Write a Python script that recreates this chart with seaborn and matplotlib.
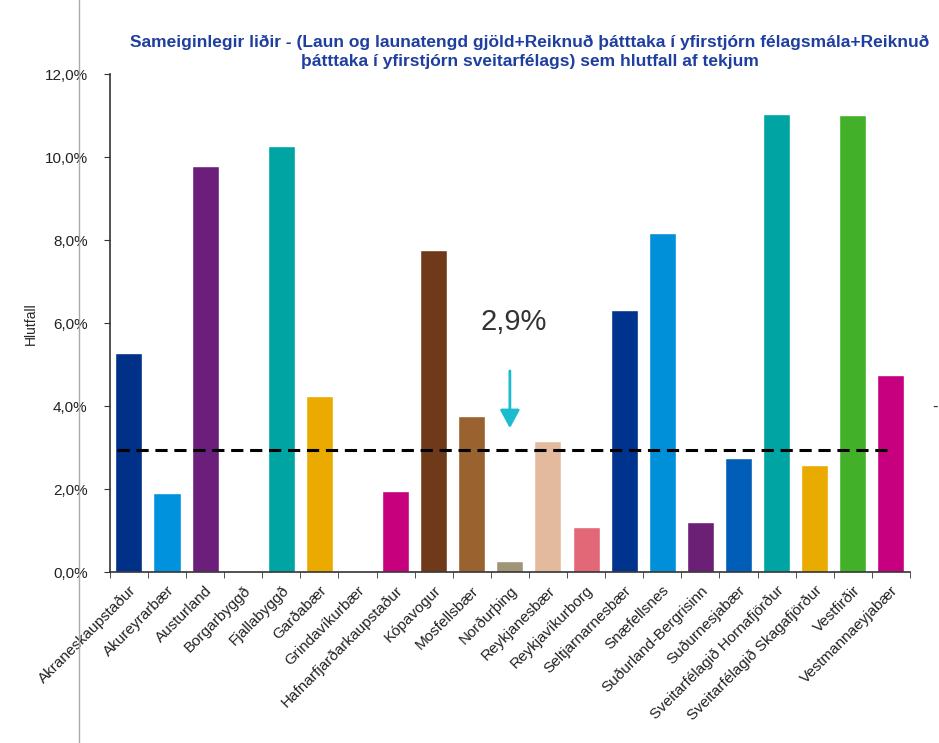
import numpy as np
import pandas as pd
import matplotlib
matplotlib.use("Agg")
import matplotlib.pyplot as plt
import seaborn as sns
from matplotlib.ticker import FuncFormatter, FixedLocator

sveitarfelog = ["Akraneskaupstaður", "Akureyrarbær", "Austurland", "Borgarbyggð",
                "Fjallabyggð", "Garðabær", "Grindavíkurbær", "Hafnarfjarðarkaupstaður",
                "Kópavogur", "Mosfellsbær", "Norðurþing", "Reykjanesbær",
                "Reykjavíkurborg", "Seltjarnarnesbær", "Snæfellsnes", "Suðurland-Bergrisinn",
                "Suðurnesjabær", "Sveitarfélagið Hornafjörður", "Sveitarfélagið Skagafjörður",
                "Vestfirðir", "Vestmannaeyjabær"]
hlutfall = [5.28, 1.90, 9.78, 0.0, 10.27, 4.24, 0.0, 1.95, 7.76, 3.76, 0.27, 3.16,
            1.08, 6.31, 8.17, 1.20, 2.75, 11.04, 2.58, 11.01, 4.75]
litir = ["#003087", "#0092DD", "#6B1F7A", "#FFFFFF", "#00A5A3", "#EAAA00", "#FFFFFF",
         "#C7007D", "#6F3A1A", "#9A622F", "#A09577", "#E4BA9F", "#E36877", "#00338D",
         "#0090DA", "#6B1F75", "#005EB8", "#00A5A3", "#EAAB00", "#43B02A", "#C6007E"]
medaltal = 2.94

df = pd.DataFrame({"sveitarfelag": sveitarfelog, "hlutfall": hlutfall})

sns.set_style("white")
plt.rcParams["font.family"] = ["Liberation Sans", "DejaVu Sans"]

fig = plt.figure(figsize=(9.39, 7.43), dpi=100)
ax = fig.add_axes([0.117, 0.230, 0.852, 0.670])

sns.barplot(data=df, x="sveitarfelag", y="hlutfall", hue="sveitarfelag",
            palette=litir, legend=False, width=0.71, saturation=1, ax=ax)

ax.set_ylim(0, 12)
ax.set_xlim(-0.5, len(sveitarfelog) - 0.5)
ax.set_yticks(np.arange(0, 12.1, 2))
ax.yaxis.set_major_formatter(FuncFormatter(lambda v, p: f"{v:.1f}%".replace(".", ",")))
ax.tick_params(axis="y", labelsize=11, length=4, pad=12, direction="out", color="#333333",
               labelcolor="#222222", left=True)
ax.set_xticks(range(len(sveitarfelog)))
ax.set_xticklabels(sveitarfelog, rotation=45, ha="right", rotation_mode="anchor",
                   fontsize=11, color="#222222")
ax.tick_params(axis="x", length=0, pad=8)
ax.xaxis.set_minor_locator(FixedLocator(np.arange(-0.5, len(sveitarfelog), 1)))
ax.tick_params(axis="x", which="minor", length=4, direction="out", color="#333333", bottom=True)
ax.set_xlabel("")
ax.set_ylabel("Hlutfall", fontsize=10, labelpad=5)

for s in ["top", "right"]:
    ax.spines[s].set_visible(False)
for s in ["left", "bottom"]:
    ax.spines[s].set_color("#333333")
    ax.spines[s].set_linewidth(1.2)

# meðaltal sem brotin lína og ör með merkimiða
ax.hlines(medaltal, -0.3, len(sveitarfelog) - 0.95, colors="black", linestyles=(0, (4, 2.2)),
          linewidth=2.2)
ax.annotate("", xy=(10.0, 3.47), xytext=(10.0, 4.85),
            arrowprops=dict(arrowstyle="-|>,head_length=0.55,head_width=0.3",
                            color="#1CBCD0", lw=2, mutation_scale=20, shrinkA=0, shrinkB=0))
ax.text(10.1, 6.02, f"{medaltal:.1f}%".replace(".", ","), ha="center", va="center",
        fontsize=21, color="#333333")

fig.text(0.564, 0.930,
         "Sameiginlegir liðir - (Laun og launatengd gjöld+Reiknuð þátttaka í yfirstjórn félagsmála+Reiknuð\n"
         "þátttaka í yfirstjórn sveitarfélags) sem hlutfall af tekjum",
         ha="center", va="center", fontsize=12.5, fontweight="bold", color="#1F3FA0",
         linespacing=1.35)

fig.add_artist(plt.Line2D([0.084, 0.084], [0, 1], color="#AAAAAA", lw=1))
fig.text(0.999, 0.452, "-", fontsize=12, ha="right", va="center")

fig.savefig("out.png", dpi=100)
